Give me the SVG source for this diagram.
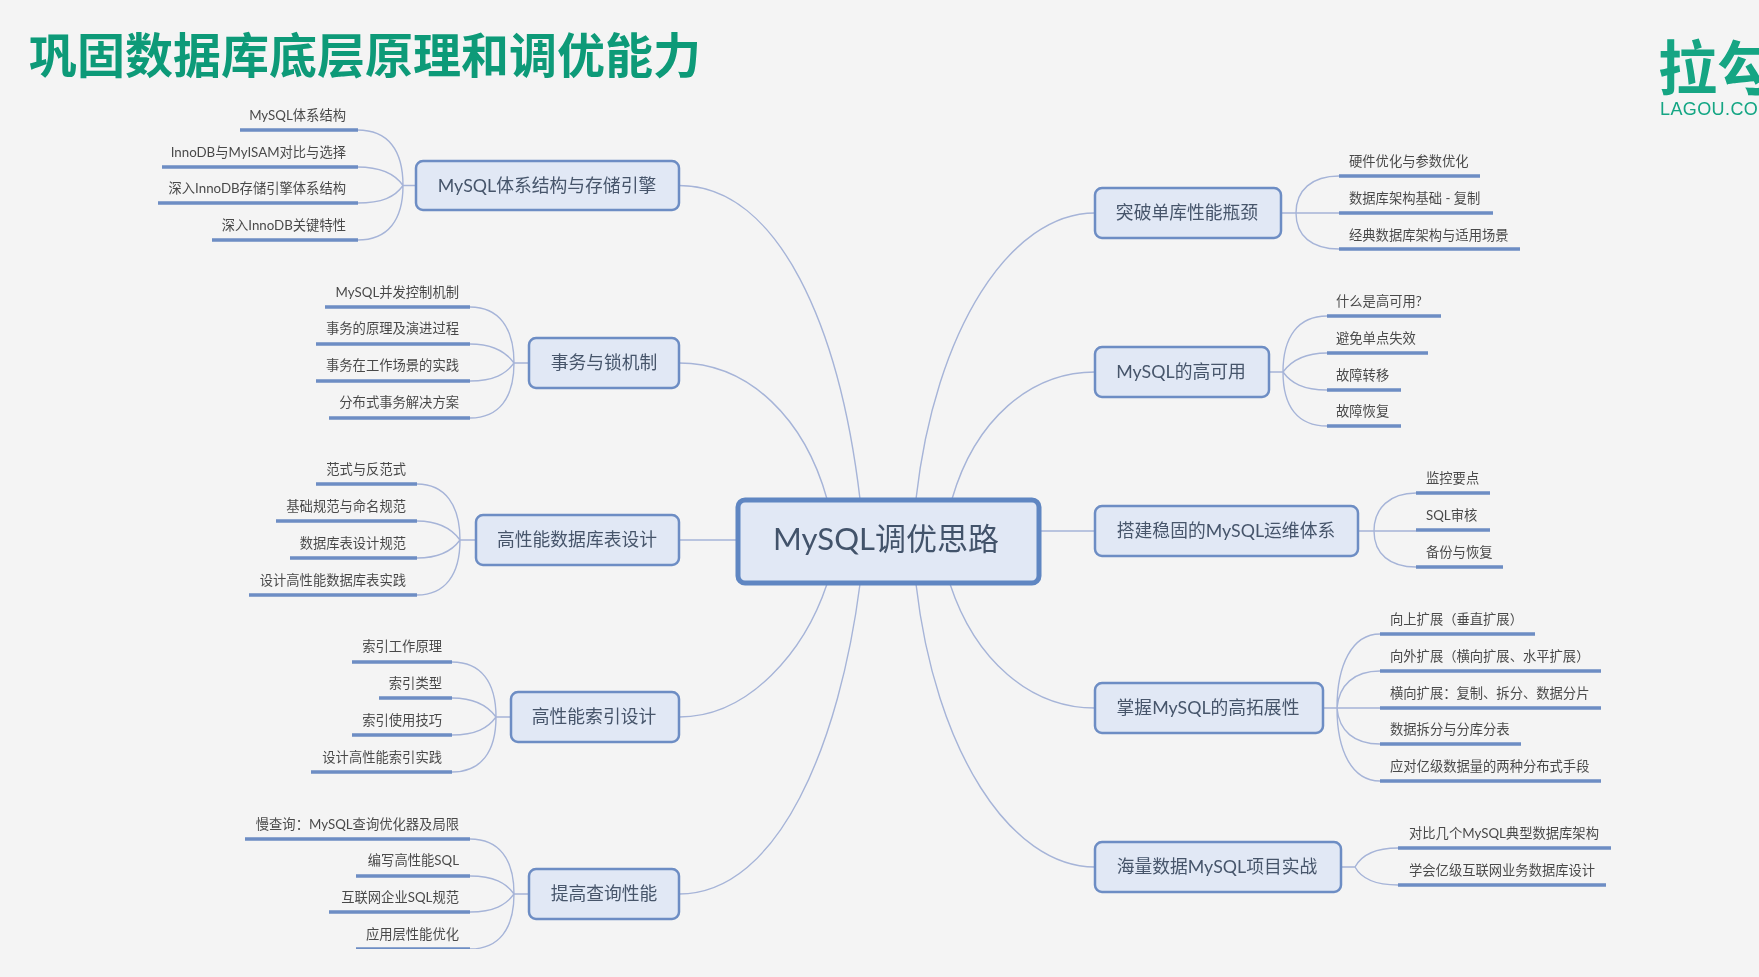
<svg xmlns="http://www.w3.org/2000/svg" width="1759" height="977" viewBox="0 0 1759 977">
<defs><filter id="soft" x="0" y="0" width="100%" height="100%"><feGaussianBlur stdDeviation="0.45"/></filter></defs>
<style>
text{font-family:"Lato","Noto Sans CJK SC",sans-serif}
.n{fill:#e1e8f5;stroke:#6d8dc4;stroke-width:2.5}
.c{fill:#e1e8f5;stroke:#5f86c2;stroke-width:5}
.nt{font-size:17.8px;fill:#46556b;text-anchor:middle;dominant-baseline:central}
.l{font-size:13.3px;fill:#4a4a4a}
.e{text-anchor:end}
.u{stroke:#6d8dc4;stroke-width:3.5;fill:none}
.w{fill:none;stroke:#a6b4d8;stroke-width:1.4}
</style>
<rect width="1759" height="977" fill="#f4f4f4"/>
<g filter="url(#soft)">
<text x="29" y="73" style="font-size:48px;font-weight:700;fill:#0d9a78;font-family:'Noto Sans CJK SC',sans-serif">巩固数据库底层原理和调优能力</text>
<g id="logo" fill="#12a583">
<text x="1658" y="90" style="font-size:59px;font-weight:700;font-family:'Noto Sans CJK SC',sans-serif">拉勾</text>
<text x="1660" y="115" style="font-size:18px;font-weight:500;letter-spacing:.4px;font-family:'Liberation Sans',sans-serif">LAGOU.CO</text>
</g>
<g id="connectors">
<path class="w" d="M679,185.500C780,185.500 840,330 860,499"/>
<path class="w" d="M679,363C750,363 805,420 827,499"/>
<path class="w" d="M679,540H738"/>
<path class="w" d="M679,717C750,717 805,650 827,584"/>
<path class="w" d="M679,894C780,894 840,740 860,584"/>
<path class="w" d="M1095,213C1010,213 935,330 916,499"/>
<path class="w" d="M1095,372C1030,372 975,420 952,499"/>
<path class="w" d="M1040,531H1095"/>
<path class="w" d="M1095,708C1030,708 975,660 950,584"/>
<path class="w" d="M1095,867C1010,867 935,750 916,584"/>
<path class="w" d="M416,185.500H403M403,185.500C403,150 388,130 357.500,130M403,185.500C395,174 382,167 357.500,167M403,185.500C395,197 382,203 357.500,203M403,185.500C403,220 388,240 357.500,240"/>
<path class="w" d="M529,363H514M514,363C514,328 499,307 470,307M514,363C506,352 494,344 470,344M514,363C506,374 494,381 470,381M514,363C514,398 499,418 470,418"/>
<path class="w" d="M476,540H460M460,540C460,505 445,484 417,484M460,540C452,529 440,521 417,521M460,540C452,551 440,558 417,558M460,540C460,575 445,595 417,595"/>
<path class="w" d="M511,717H496M496,717C496,682 481,662 452,662M496,717C488,706 476,698 452,698M496,717C488,728 476,735 452,735M496,717C496,752 481,772 452,772"/>
<path class="w" d="M529,894H514M514,894C514,859 499,839 470,839M514,894C506,883 494,876 470,876M514,894C506,905 494,912 470,912M514,894C514,929 499,949 470,949"/>
<path class="w" d="M1281,213H1296M1296,213C1296,190 1312,176 1339,176M1296,213H1339M1296,213C1296,236 1312,249 1339,249"/>
<path class="w" d="M1269,372H1283M1283,372C1283,337 1298,316 1327,316M1283,372C1291,361 1303,353 1327,353M1283,372C1291,383 1303,390 1327,390M1283,372C1283,407 1298,426 1327,426"/>
<path class="w" d="M1358,531H1374M1374,531C1374,508 1390,493 1416,493M1374,531H1416M1374,531C1374,554 1390,567 1416,567"/>
<path class="w" d="M1323,708H1337M1337,708C1337,665 1352,634 1380,634M1337,708C1339,685 1354,671 1380,671M1337,708H1380M1337,708C1339,731 1354,744 1380,744M1337,708C1337,751 1352,781 1380,781"/>
<path class="w" d="M1341,867H1355M1355,867C1361,856 1374,848 1398,848M1355,867C1361,878 1374,885 1398,885"/>
</g>
<g id="root"><rect class="c" x="738" y="500" width="301" height="83" rx="7"/><text x="886" y="538" style="font-size:31px;fill:#43536b;text-anchor:middle;dominant-baseline:central">MySQL调优思路</text></g>
<g id="n-l1"><rect class="n" x="416" y="161" width="263" height="49" rx="7"/><text class="nt" x="547" y="185">MySQL体系结构与存储引擎</text></g>
<g id="n-l2"><rect class="n" x="529" y="338" width="150" height="50" rx="7"/><text class="nt" x="604" y="362">事务与锁机制</text></g>
<g id="n-l3"><rect class="n" x="476" y="515" width="203" height="50" rx="7"/><text class="nt" x="577" y="539">高性能数据库表设计</text></g>
<g id="n-l4"><rect class="n" x="511" y="692" width="168" height="50" rx="7"/><text class="nt" x="594" y="716">高性能索引设计</text></g>
<g id="n-l5"><rect class="n" x="529" y="869" width="150" height="50" rx="7"/><text class="nt" x="604" y="893">提高查询性能</text></g>
<g id="n-r1"><rect class="n" x="1095" y="188" width="186" height="50" rx="7"/><text class="nt" x="1187" y="212">突破单库性能瓶颈</text></g>
<g id="n-r2"><rect class="n" x="1095" y="347" width="174" height="50" rx="7"/><text class="nt" x="1181" y="371">MySQL的高可用</text></g>
<g id="n-r3"><rect class="n" x="1095" y="506" width="263" height="50" rx="7"/><text class="nt" x="1226" y="530">搭建稳固的MySQL运维体系</text></g>
<g id="n-r4"><rect class="n" x="1095" y="683" width="228" height="50" rx="7"/><text class="nt" x="1208" y="707">掌握MySQL的高拓展性</text></g>
<g id="n-r5"><rect class="n" x="1095" y="842" width="246" height="50" rx="7"/><text class="nt" x="1217" y="866">海量数据MySQL项目实战</text></g>
<g id="leaves-l1"><path class="u" d="M240,130H358M162,167H358M158,203H358M212,240H358"/>
<text class="l e" x="346" y="119.500">MySQL体系结构</text><text class="l e" x="346" y="156.500">InnoDB与MyISAM对比与选择</text><text class="l e" x="346" y="193">深入InnoDB存储引擎体系结构</text><text class="l e" x="346" y="230">深入InnoDB关键特性</text></g>
<g id="leaves-l2"><path class="u" d="M325,307H470M316,344H470M316,381H470M329,418H470"/>
<text class="l e" x="459" y="296.500">MySQL并发控制机制</text><text class="l e" x="459" y="333">事务的原理及演进过程</text><text class="l e" x="459" y="370">事务在工作场景的实践</text><text class="l e" x="459" y="407">分布式事务解决方案</text></g>
<g id="leaves-l3"><path class="u" d="M316,484H417M276,521H417M290,558H417M249,595H417"/>
<text class="l e" x="406" y="473.500">范式与反范式</text><text class="l e" x="406" y="510.500">基础规范与命名规范</text><text class="l e" x="406" y="547.500">数据库表设计规范</text><text class="l e" x="406" y="584.500">设计高性能数据库表实践</text></g>
<g id="leaves-l4"><path class="u" d="M352,662H452M379,698H452M352,735H452M311,772H452"/>
<text class="l e" x="442" y="651">索引工作原理</text><text class="l e" x="442" y="688">索引类型</text><text class="l e" x="442" y="724.500">索引使用技巧</text><text class="l e" x="442" y="761.500">设计高性能索引实践</text></g>
<g id="leaves-l5"><path class="u" d="M245,839H470M356,876H470M329,912H470M356,949H470"/>
<text class="l e" x="459" y="828.500">慢查询：MySQL查询优化器及局限</text><text class="l e" x="459" y="865">编写高性能SQL</text><text class="l e" x="459" y="902">互联网企业SQL规范</text><text class="l e" x="459" y="938.500">应用层性能优化</text></g>
<g id="leaves-r1"><path class="u" d="M1339,176H1480M1339,213H1493M1339,249H1520"/>
<text class="l" x="1349" y="165.500">硬件优化与参数优化</text><text class="l" x="1349" y="202.500">数据库架构基础 - 复制</text><text class="l" x="1349" y="239.500">经典数据库架构与适用场景</text></g>
<g id="leaves-r2"><path class="u" d="M1327,316H1441M1327,353H1428M1327,390H1401M1327,426H1401"/>
<text class="l" x="1336" y="306">什么是高可用?</text><text class="l" x="1336" y="343">避免单点失效</text><text class="l" x="1336" y="380">故障转移</text><text class="l" x="1336" y="416">故障恢复</text></g>
<g id="leaves-r3"><path class="u" d="M1416,493H1490M1416,530H1490M1416,567H1503"/>
<text class="l" x="1426" y="483">监控要点</text><text class="l" x="1426" y="520">SQL审核</text><text class="l" x="1426" y="557">备份与恢复</text></g>
<g id="leaves-r4"><path class="u" d="M1380,634H1535M1380,671H1601M1380,708H1601M1380,744H1521M1380,781H1601"/>
<text class="l" x="1390" y="624">向上扩展（垂直扩展）</text><text class="l" x="1390" y="661">向外扩展（横向扩展、水平扩展）</text><text class="l" x="1390" y="697.500">横向扩展：复制、拆分、数据分片</text><text class="l" x="1390" y="734">数据拆分与分库分表</text><text class="l" x="1390" y="771">应对亿级数据量的两种分布式手段</text></g>
<g id="leaves-r5"><path class="u" d="M1398,848H1611M1398,885H1606"/>
<text class="l" x="1409" y="838">对比几个MySQL典型数据库架构</text><text class="l" x="1409" y="875">学会亿级互联网业务数据库设计</text></g>
</g>
</svg>
